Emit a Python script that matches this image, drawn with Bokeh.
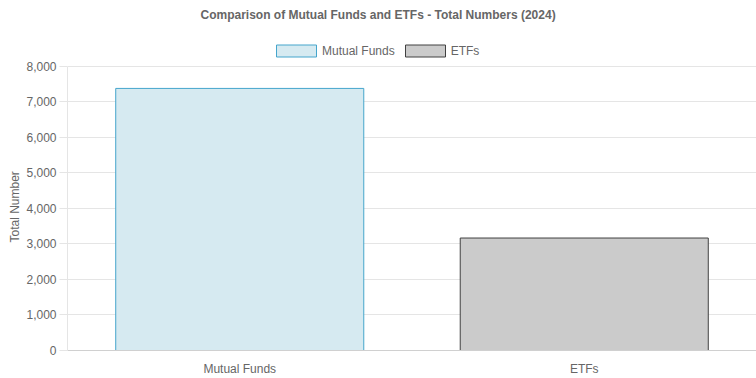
from bokeh.plotting import figure
from bokeh.models import (ColumnDataSource, Range1d, FactorRange, Legend, LegendItem,
                          NumeralTickFormatter, FixedTicker, Title)
from bokeh.embed import file_html
from bokeh.resources import INLINE

categories = ["Mutual Funds", "ETFs"]
values = [7375, 3165]
fill_colors = ["#d6eaf1", "#cbcbcb"]
line_colors = ["#45a5cc", "#404040"]
y_ticks = [0, 1000, 2000, 3000, 4000, 5000, 6000, 7000, 8000]
y_max = 8000
y_view_top = 9117  # extra room above the axis for the legend

FONT = "Liberation Sans"
TXT = "#666666"
GRID = "#e5e5e5"

p = figure(width=756, height=378, output_backend="svg", toolbar_location=None,
           x_range=FactorRange(factors=categories, range_padding=0),
           y_range=Range1d(0, y_view_top),
           min_border_left=67, min_border_right=0, min_border_top=0, min_border_bottom=0)
p.outline_line_color = None
p.background_fill_color = "white"
p.border_fill_color = "white"

renderers = []
for cat, v, fc, lc in zip(categories, values, fill_colors, line_colors):
    src = ColumnDataSource(dict(x=[cat], top=[v]))
    r = p.vbar(x="x", top="top", width=0.72, source=src, fill_color=fc,
               line_color=lc, line_width=1)
    renderers.append(r)

p.title = Title(text="Comparison of Mutual Funds and ETFs - Total Numbers (2024)",
                text_font=FONT, text_font_size="12px", text_font_style="bold",
                text_color=TXT, align="left", offset=133, standoff=10)

items = [LegendItem(label=c, renderers=[r]) for c, r in zip(categories, renderers)]
legend = Legend(items=items, orientation="horizontal", location=(204, 292),
                glyph_width=50, glyph_height=15, label_standoff=1, spacing=5,
                label_text_font=FONT, label_text_font_size="12px", label_text_color=TXT,
                label_height=15, padding=0, margin=0,
                border_line_alpha=0, background_fill_alpha=0)
p.add_layout(legend, "center")

# y axis
p.yaxis.ticker = FixedTicker(ticks=y_ticks)
p.yaxis.bounds = (0, y_max)
p.yaxis.formatter = NumeralTickFormatter(format="0,0")
p.yaxis.major_label_text_font = FONT
p.yaxis.major_label_text_font_size = "12px"
p.yaxis.major_label_text_color = TXT
p.yaxis.major_label_standoff = 3
p.yaxis.major_tick_out = 8
p.yaxis.major_tick_in = 0
p.yaxis.major_tick_line_color = GRID
p.yaxis.minor_tick_line_color = None
p.yaxis.axis_line_color = GRID

# y axis title, centred on the 0..8000 span
y_title = Title(text="Total Number", text_font=FONT, text_font_size="12px",
                text_font_style="normal", text_color=TXT, align="left",
                offset=108, standoff=4)
p.add_layout(y_title, "left")

# x axis
p.xaxis.major_label_text_font = FONT
p.xaxis.major_label_text_font_size = "12px"
p.xaxis.major_label_text_color = TXT
p.xaxis.major_label_standoff = 11
p.xaxis.axis_label_standoff = 0
p.xaxis.major_tick_out = 0
p.xaxis.major_tick_in = 0
p.xaxis.major_tick_line_color = None
p.xaxis.axis_line_color = "#d0d0d0"

p.xgrid.grid_line_color = None
p.ygrid.grid_line_color = GRID
p.ygrid.ticker = FixedTicker(ticks=y_ticks)

open("out.html", "w").write(file_html(p, INLINE))
